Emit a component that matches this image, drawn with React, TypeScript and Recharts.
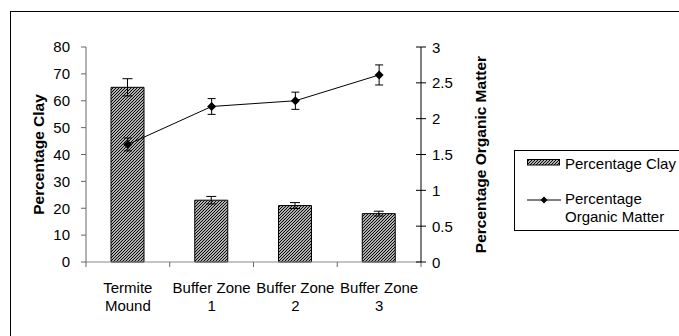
import React from 'react';
import { ComposedChart, Bar, Line, XAxis, YAxis, ErrorBar, Legend } from 'recharts';

const categories = ['Termite Mound', 'Buffer Zone 1', 'Buffer Zone 2', 'Buffer Zone 3'];
const clay = [65, 23, 21, 18];
const clayErr = [3.2, 1.4, 1.1, 0.9];
const organic = [1.64, 2.17, 2.25, 2.61];
const organicErr = [0.09, 0.11, 0.12, 0.14];
const clayTicks = [0, 10, 20, 30, 40, 50, 60, 70, 80];
const organicTicks = [0, 0.5, 1, 1.5, 2, 2.5, 3];

const FONT = '"Liberation Sans", Arial, sans-serif';
const W = 679;
const H = 336;
const MARGIN = { top: 47, right: 198, left: 30, bottom: 34 };
const LEFT_AXIS_W = 56;
const RIGHT_AXIS_W = 60;
const PLOT_W = W - MARGIN.left - MARGIN.right - LEFT_AXIS_W - RIGHT_AXIS_W;
const BAND = PLOT_W / categories.length;

const data = categories.map((name, i) => ({
  name,
  clay: clay[i],
  clayErr: clayErr[i],
  organic: organic[i],
  organicErr: organicErr[i],
}));

// splits "Buffer Zone 1" -> ["Buffer Zone", "1"]
const splitLabel = (s: string) => {
  const k = s.lastIndexOf(' ');
  return [s.slice(0, k), s.slice(k + 1)];
};

const Diamond = ({ cx, cy, r = 4.5 }: { cx: number; cy: number; r?: number }) => (
  <polygon points={`${cx},${cy - r} ${cx + r},${cy} ${cx},${cy + r} ${cx - r},${cy}`} fill="#000" />
);

const CategoryTick = (props: any) => {
  const { x, y, payload, index } = props;
  const [l1, l2] = splitLabel(String(payload.value));
  return (
    <g>
      <line x1={x - BAND / 2} x2={x - BAND / 2} y1={y} y2={y + 5} stroke="#666" />
      {index === categories.length - 1 && (
        <line x1={x + BAND / 2} x2={x + BAND / 2} y1={y} y2={y + 5} stroke="#666" />
      )}
      <text x={x} y={y + 25} textAnchor="middle" dominantBaseline="central" fontSize={15} fill="#000">
        {l1}
      </text>
      <text x={x} y={y + 43.5} textAnchor="middle" dominantBaseline="central" fontSize={15} fill="#000">
        {l2}
      </text>
    </g>
  );
};

const RightTick = (props: any) => {
  const { x, y, payload } = props;
  return (
    <g>
      <line x1={x - 16} x2={x - 6} y1={y} y2={y} stroke="#000" />
      <text x={x} y={y} dominantBaseline="central" fontSize={15} fill="#000">
        {payload.value}
      </text>
    </g>
  );
};

const LegendBox = () => (
  <div
    style={{
      position: 'relative',
      width: 200,
      height: 81,
      boxSizing: 'border-box',
      border: '1px solid #000',
      background: '#fff',
      fontFamily: FONT,
      fontSize: 15,
      color: '#000',
    }}
  >
    <svg style={{ position: 'absolute', left: 12, top: 8 }} width={33} height={7}>
      <rect x={0.5} y={0.5} width={32} height={5.5} fill="url(#clayHatch)" stroke="#000" />
    </svg>
    <div style={{ position: 'absolute', left: 50, top: 3.5, lineHeight: '17px', whiteSpace: 'nowrap' }}>
      Percentage Clay
    </div>
    <svg style={{ position: 'absolute', left: 12, top: 44 }} width={36} height={10}>
      <line x1={0} x2={34} y1={5} y2={5} stroke="#000" />
      <Diamond cx={17} cy={5} r={3.5} />
    </svg>
    <div style={{ position: 'absolute', left: 50, top: 39, lineHeight: '18px', whiteSpace: 'nowrap' }}>
      Percentage
      <br />
      Organic Matter
    </div>
  </div>
);

export default function App() {
  return (
    <div style={{ position: 'absolute', left: 0, top: 0, width: W, height: H, overflow: 'hidden', background: '#fff' }}>
      <svg width={0} height={0} style={{ position: 'absolute' }}>
        <defs>
          <pattern id="clayHatch" patternUnits="userSpaceOnUse" width={3} height={3}>
            <rect width={3} height={3} fill="#fff" />
            <path d="M-1,1 l2,-2 M0,3 l3,-3 M2,4 l2,-2" stroke="#000" strokeWidth={1.2} />
          </pattern>
        </defs>
      </svg>
      <div
        style={{
          position: 'absolute',
          left: 10,
          top: 11,
          width: 720,
          height: 400,
          border: '1px solid #000',
        }}
      />
      <div style={{ position: 'absolute', left: 0, top: 0 }}>
        <ComposedChart width={W} height={H} data={data} margin={MARGIN} style={{ fontFamily: FONT }}>
          <XAxis
            dataKey="name"
            xAxisId={0}
            stroke="#888"
            tickLine={false}
            tickSize={0}
            tickMargin={0}
            height={40}
            interval={0}
            tick={<CategoryTick />}
          />
          <YAxis
            yAxisId="left"
            orientation="left"
            width={LEFT_AXIS_W}
            domain={[0, 80]}
            ticks={clayTicks}
            interval={0}
            stroke="#666"
            tickSize={5}
            tickMargin={11}
            tick={{ fontSize: 15, fill: '#000' }}
            label={({ viewBox }: any) => (
              <text
                x={38}
                y={viewBox.y + viewBox.height / 2}
                transform={`rotate(-90 38 ${viewBox.y + viewBox.height / 2})`}
                textAnchor="middle"
                dominantBaseline="central"
                fontSize={15.5}
                fontWeight="bold"
                fill="#000"
              >
                Percentage Clay
              </text>
            )}
          />
          <YAxis
            yAxisId="right"
            orientation="right"
            width={RIGHT_AXIS_W}
            domain={[0, 3]}
            ticks={organicTicks}
            interval={0}
            stroke="#000"
            tickLine={false}
            tickSize={5}
            tickMargin={6}
            tick={<RightTick />}
            label={({ viewBox }: any) => (
              <text
                x={480}
                y={viewBox.y + viewBox.height / 2}
                transform={`rotate(-90 480 ${viewBox.y + viewBox.height / 2})`}
                textAnchor="middle"
                dominantBaseline="central"
                fontSize={15.5}
                fontWeight="bold"
                fill="#000"
              >
                Percentage Organic Matter
              </text>
            )}
          />
          <Legend
            layout="vertical"
            align="center"
            verticalAlign="middle"
            wrapperStyle={{ position: 'absolute', left: 514, top: 150, width: 200, height: 81 }}
            content={() => <LegendBox />}
          />
          <Bar
            yAxisId="left"
            dataKey="clay"
            name="Percentage Clay"
            barSize={33}
            fill="url(#clayHatch)"
            stroke="#000"
            strokeWidth={1}
            isAnimationActive={false}
          >
            <ErrorBar dataKey="clayErr" width={5} stroke="#000" strokeWidth={1} direction="y" />
          </Bar>
          <Line
            yAxisId="right"
            dataKey="organic"
            name="Percentage Organic Matter"
            stroke="#000"
            strokeWidth={1}
            isAnimationActive={false}
            dot={(p: any) => <Diamond key={`d-${p.index}`} cx={p.cx} cy={p.cy} />}
            activeDot={false}
          >
            <ErrorBar dataKey="organicErr" width={4} stroke="#000" strokeWidth={1} direction="y" />
          </Line>
        </ComposedChart>
      </div>
    </div>
  );
}
